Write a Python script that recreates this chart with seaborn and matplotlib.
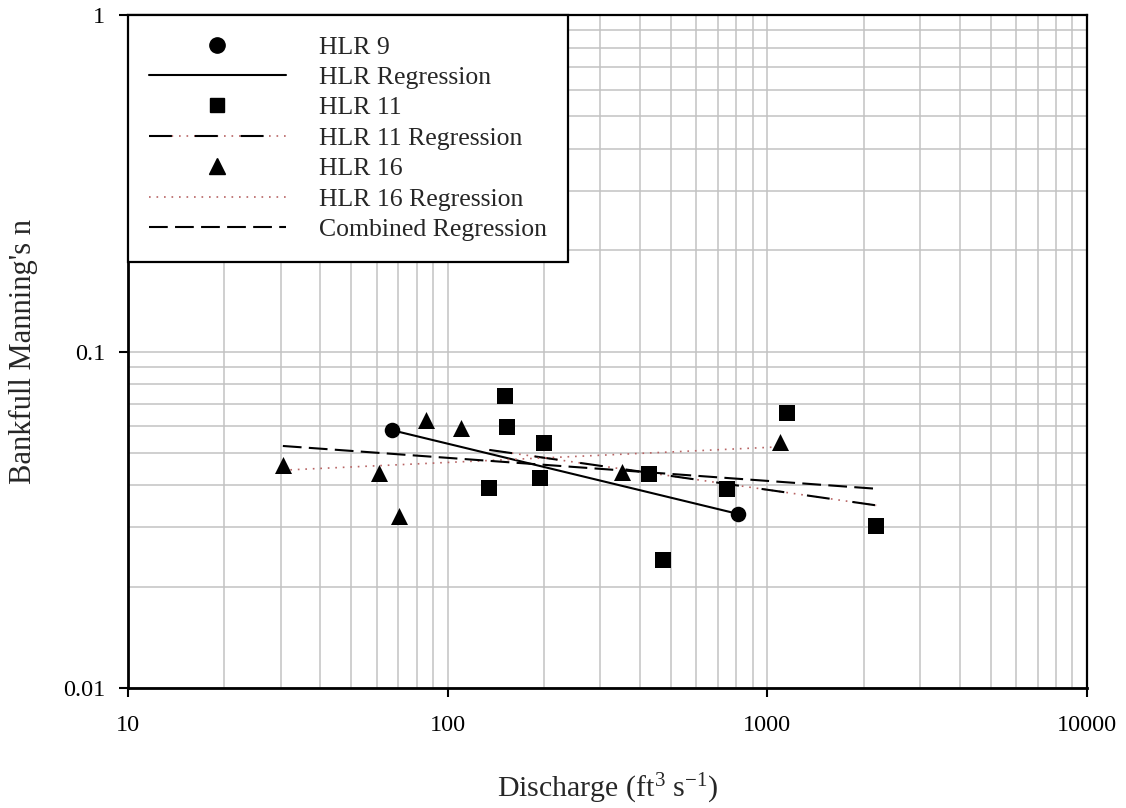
import numpy as np
import pandas as pd
import seaborn as sns
import matplotlib.pyplot as plt
from matplotlib.lines import Line2D
from matplotlib.legend_handler import HandlerTuple

# discharge (ft3/s) and bankfull Manning's n
hlr9_q = [66.8, 811]
hlr9_n = [0.0584, 0.0329]
hlr11_q = [135, 151, 153, 194, 200, 425, 473, 750, 1155, 2190]
hlr11_n = [0.0393, 0.0738, 0.0597, 0.0421, 0.0535, 0.0432, 0.0240, 0.0390, 0.0657, 0.0303]
hlr16_q = [30.5, 60.8, 70.3, 85.3, 110, 350, 1099]
hlr16_n = [0.0460, 0.0436, 0.0324, 0.0626, 0.0593, 0.0438, 0.0538]

# regression line end points
hlr9_reg_q = [66.8, 811]
hlr9_reg_n = [0.0584, 0.0329]
hlr11_reg_q = [135, 2190]
hlr11_reg_n = [0.0510, 0.0349]
hlr16_reg_q = [30.5, 1099]
hlr16_reg_n = [0.0444, 0.0521]
comb_reg_q = [30.5, 2190]
comb_reg_n = [0.0524, 0.0391]

x_ticks = [10, 100, 1000, 10000]
x_ticklabels = ['10', '100', '1000', '10000']
y_ticks = [0.01, 0.1, 1]
y_ticklabels = ['0.01', '0.1', '1']

df = pd.concat([
    pd.DataFrame({'Q': hlr9_q, 'n': hlr9_n, 'site': 'HLR 9'}),
    pd.DataFrame({'Q': hlr11_q, 'n': hlr11_n, 'site': 'HLR 11'}),
    pd.DataFrame({'Q': hlr16_q, 'n': hlr16_n, 'site': 'HLR 16'}),
], ignore_index=True)

sns.set_style('white')
plt.rcParams['font.family'] = ['Liberation Serif', 'DejaVu Serif']
plt.rcParams['mathtext.fontset'] = 'custom'
plt.rcParams['mathtext.rm'] = 'Liberation Serif'
plt.rcParams['mathtext.it'] = 'Liberation Serif:italic'

fig, ax = plt.subplots(figsize=(11.26, 8.08), dpi=100)
fig.subplots_adjust(left=0.1137, right=0.9654, top=0.9814, bottom=0.1485)

pink = '#b86464'
dots = (0, (1, 3.5))

sns.lineplot(x=hlr9_reg_q, y=hlr9_reg_n, ax=ax, color='black', lw=1.5,
             estimator=None, sort=False, legend=False)
sns.lineplot(x=hlr11_reg_q, y=hlr11_reg_n, ax=ax, color=pink, lw=1.2, linestyle=dots,
             estimator=None, sort=False, legend=False)
sns.lineplot(x=hlr11_reg_q, y=hlr11_reg_n, ax=ax, color='black', lw=1.5, linestyle=(0, (11, 11)),
             estimator=None, sort=False, legend=False)
sns.lineplot(x=hlr16_reg_q, y=hlr16_reg_n, ax=ax, color=pink, lw=1.2, linestyle=dots,
             estimator=None, sort=False, legend=False)
sns.lineplot(x=comb_reg_q, y=comb_reg_n, ax=ax, color='black', lw=1.5, linestyle=(0, (9, 3.5)),
             estimator=None, sort=False, legend=False)

markers = {'HLR 9': 'o', 'HLR 11': 's', 'HLR 16': '^'}
msizes = {'HLR 9': 125, 'HLR 11': 120, 'HLR 16': 150}
for site in ['HLR 9', 'HLR 11', 'HLR 16']:
    sns.scatterplot(data=df[df['site'] == site], x='Q', y='n', ax=ax, marker=markers[site],
                    s=msizes[site], color='black', edgecolor='black', linewidth=0,
                    legend=False, zorder=3)

ax.set_xscale('log')
ax.set_yscale('log')
ax.set_xlim(10, 10000)
ax.set_ylim(0.01, 1)
ax.set_xticks(x_ticks)
ax.set_xticklabels(x_ticklabels)
ax.set_yticks(y_ticks)
ax.set_yticklabels(y_ticklabels)

ax.grid(True, which='both', color='#c2c2c2', lw=1.1)
ax.set_axisbelow(True)
ax.tick_params(which='major', direction='out', length=6.5, width=1.5, labelsize=17.5,
               left=True, bottom=True, colors='black')
ax.tick_params(axis='y', pad=10)
ax.tick_params(axis='x', pad=13)
ax.tick_params(which='minor', length=0)
for side in ['left', 'bottom']:
    ax.spines[side].set_linewidth(2)
    ax.spines[side].set_color('black')
for side in ['top', 'right']:
    ax.spines[side].set_linewidth(1.6)
    ax.spines[side].set_color('black')

ax.set_xlabel(r'Discharge (ft$^{3}$ s$^{\mathrm{-1}}$)', fontsize=21.5)
ax.set_ylabel("Bankfull Manning's n", fontsize=22)
ax.xaxis.set_label_coords(0.5, -0.125)
ax.yaxis.set_label_coords(-0.094, 0.5)

handles = [
    Line2D([], [], marker='o', color='black', ls='none', markersize=11),
    Line2D([], [], color='black', lw=1.5),
    Line2D([], [], marker='s', color='black', ls='none', markersize=10.5),
    (Line2D([], [], color=pink, lw=1.2, ls=dots),
     Line2D([], [], color='black', lw=1.5, ls=(0, (11, 11)))),
    Line2D([], [], marker='^', color='black', ls='none', markersize=12),
    Line2D([], [], color=pink, lw=1.2, ls=dots),
    Line2D([], [], color='black', lw=1.5, ls=(0, (9, 3.5))),
]
labels = ['HLR 9', 'HLR Regression', 'HLR 11', 'HLR 11 Regression', 'HLR 16',
          'HLR 16 Regression', 'Combined Regression']
leg = ax.legend(handles, labels, loc='upper left', bbox_to_anchor=(0, 1.0),
                borderaxespad=0, fontsize=18.5, frameon=True, fancybox=False,
                framealpha=1, edgecolor='black', handlelength=5.35, handletextpad=1.3,
                borderpad=0.8, labelspacing=0.29,
                handler_map={tuple: HandlerTuple(ndivide=1, pad=0)})
leg.get_frame().set_linewidth(1.6)
leg.set_zorder(5)

plt.savefig('out.png', dpi=100)
